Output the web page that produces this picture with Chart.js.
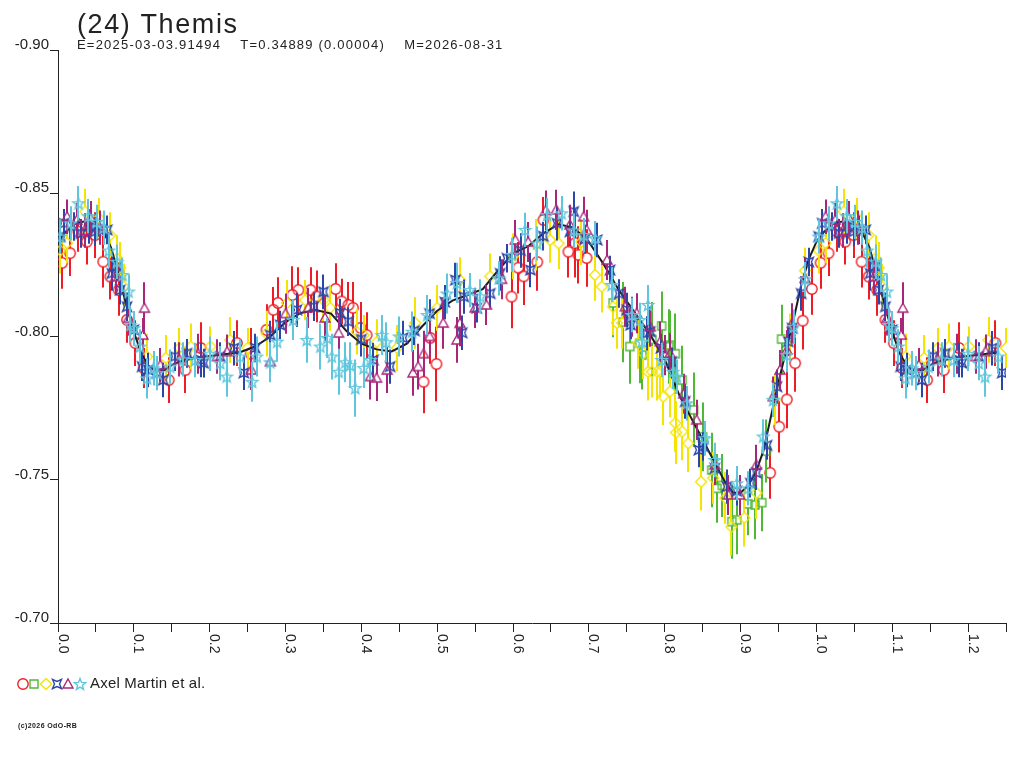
<!DOCTYPE html>
<html lang="en">
<head>
    <meta charset="UTF-8">
    <title>(24) Themis - lightcurve</title>
    <script src="https://cdn.jsdelivr.net/npm/chart.js"></script>
    <style>
        html, body { margin: 0; padding: 0; background: #fff; }
        #wrap { width: 1024px; height: 768px; }
    </style>
</head>
<body>
    <div id="wrap">
        <canvas id="lcChart" width="1024" height="768"></canvas>
    </div>

    <script>
        // axis ticks
        const xTicks = [0.0, 0.1, 0.2, 0.3, 0.4, 0.5, 0.6, 0.7, 0.8, 0.9, 1.0, 1.1, 1.2];
        const yTicks = [-0.90, -0.85, -0.80, -0.75, -0.70];

        // composite fit (black)
        const fitPhase = [0.00, 0.01, 0.02, 0.03, 0.04, 0.05, 0.06, 0.07, 0.08, 0.09, 0.10, 0.11, 0.12, 0.13, 0.14, 0.15, 0.16, 0.18, 0.20, 0.22, 0.24,
            0.26, 0.28, 0.30, 0.32, 0.34, 0.36, 0.38, 0.40, 0.42, 0.44, 0.46, 0.48, 0.50, 0.52, 0.54, 0.56, 0.58, 0.60, 0.62, 0.64, 0.66, 0.68,
            0.70, 0.72, 0.74, 0.76, 0.78, 0.80, 0.82, 0.84, 0.86, 0.88, 0.89, 0.90, 0.91, 0.92, 0.93, 0.94, 0.95, 0.96, 0.97, 0.98, 0.99];
        const fitMag = [-0.8330, -0.8365, -0.8390, -0.8400, -0.8402, -0.8390, -0.8365, -0.8310, -0.8215, -0.8110, -0.8015, -0.7940, -0.7895, -0.7878, -0.7882, -0.7900, -0.7912, -0.7925, -0.7932, -0.7938, -0.7945,
            -0.7965, -0.8000, -0.8050, -0.8082, -0.8092, -0.8080, -0.8020, -0.7975, -0.7955, -0.7948, -0.7975, -0.8035, -0.8090, -0.8125, -0.8145, -0.8165, -0.8230, -0.8290, -0.8315, -0.8360, -0.8392, -0.8380,
            -0.8330, -0.8250, -0.8160, -0.8085, -0.8010, -0.7920, -0.7790, -0.7690, -0.7590, -0.7490, -0.7455, -0.7455, -0.7480, -0.7525, -0.7600, -0.7720, -0.7840, -0.7950, -0.8060, -0.8180, -0.8270];

        // red circles
        const redPhase = [0.0055, 0.016, 0.027, 0.038, 0.049, 0.0596, 0.069, 0.080, 0.091, 0.102, 0.113, 0.146, 0.168, 0.188, 0.236, 0.254, 0.275, 0.284, 0.290, 0.309,
            0.317, 0.333, 0.341, 0.366, 0.374, 0.383, 0.389, 0.399, 0.407, 0.482, 0.491, 0.499, 0.598, 0.607, 0.614, 0.632, 0.640, 0.673, 0.682, 0.686,
            0.697, 0.939, 0.951, 0.961, 0.972, 0.982, 0.994];
        const redMag = [-0.8257, -0.8291, -0.8366, -0.8331, -0.8354, -0.8261, -0.8209, -0.8162, -0.8058, -0.7977, -0.7890, -0.7848, -0.7883, -0.7960, -0.7977, -0.7940, -0.8023, -0.8093, -0.8117, -0.8145,
            -0.8162, -0.8162, -0.8140, -0.8166, -0.8122, -0.8110, -0.8100, -0.8030, -0.8005, -0.7842, -0.7995, -0.7904, -0.8139, -0.8240, -0.8210, -0.8260, -0.8407, -0.8296, -0.8326, -0.8285,
            -0.8274, -0.7524, -0.7685, -0.7780, -0.7907, -0.8055, -0.8166];
        const redErr = [0.009, 0.008, 0.007, 0.008, 0.008, 0.009, 0.008, 0.009, 0.008, 0.008, 0.007, 0.008, 0.008, 0.009, 0.008, 0.009, 0.009, 0.008, 0.009, 0.010,
            0.008, 0.008, 0.009, 0.009, 0.008, 0.008, 0.009, 0.009, 0.008, 0.011, 0.009, 0.013, 0.011, 0.009, 0.010, 0.010, 0.008, 0.009, 0.012, 0.010,
            0.010, 0.009, 0.009, 0.010, 0.010, 0.010, 0.009];

        // green squares
        const greenPhase = [0.732, 0.745, 0.754, 0.767, 0.770, 0.783, 0.796, 0.805, 0.807, 0.814, 0.823, 0.838, 0.850, 0.862, 0.869, 0.876, 0.8885, 0.895, 0.910, 0.919,
            0.928, 0.934, 0.954];
        const greenMag = [-0.8117, -0.8050, -0.7965, -0.7977, -0.7935, -0.7990, -0.8037, -0.7965, -0.7970, -0.7940, -0.7848, -0.7744, -0.7650, -0.7534, -0.7470, -0.7480, -0.7354, -0.7360, -0.7416, -0.7412,
            -0.7420, -0.7600, -0.7991];
        const greenErr = [0.012, 0.014, 0.013, 0.014, 0.012, 0.013, 0.012, 0.013, 0.012, 0.014, 0.012, 0.013, 0.012, 0.013, 0.012, 0.011, 0.013, 0.012, 0.011, 0.012,
            0.010, 0.011, 0.012];

        // yellow diamonds
        const yellowPhase = [0.003, 0.012, 0.036, 0.054, 0.069, 0.078, 0.082, 0.087, 0.1175, 0.142, 0.160, 0.175, 0.201, 0.227, 0.250, 0.275, 0.302, 0.326, 0.350, 0.359,
            0.394, 0.403, 0.420, 0.447, 0.471, 0.500, 0.530, 0.570, 0.600, 0.630, 0.649, 0.660, 0.690, 0.708, 0.717, 0.732, 0.737, 0.744, 0.765, 0.772,
            0.778, 0.783, 0.790, 0.794, 0.798, 0.807, 0.814, 0.815, 0.823, 0.831, 0.848, 0.864, 0.880, 0.888, 0.905, 0.921, 0.945, 0.965, 0.985];
        const yellowMag = [-0.8300, -0.8326, -0.8436, -0.8413, -0.8354, -0.8273, -0.8240, -0.8174, -0.7930, -0.7925, -0.7960, -0.7965, -0.7965, -0.7988, -0.7960, -0.8010, -0.8117, -0.8127, -0.8127, -0.8100,
            -0.8017, -0.8005, -0.7980, -0.7960, -0.8047, -0.8100, -0.8197, -0.8210, -0.8280, -0.8320, -0.8337, -0.8325, -0.8330, -0.8215, -0.8174, -0.8104, -0.8047, -0.8047, -0.7977, -0.7942,
            -0.7877, -0.7877, -0.7877, -0.7877, -0.7790, -0.7808, -0.7698, -0.7665, -0.7668, -0.7627, -0.7493, -0.7506, -0.7436, -0.7336, -0.7367, -0.7454, -0.7780, -0.8000, -0.8230];
        const yellowErr = [0.008, 0.007, 0.008, 0.007, 0.008, 0.008, 0.009, 0.008, 0.008, 0.008, 0.007, 0.008, 0.007, 0.008, 0.007, 0.008, 0.008, 0.007, 0.008, 0.008,
            0.008, 0.007, 0.008, 0.008, 0.009, 0.008, 0.008, 0.008, 0.008, 0.009, 0.008, 0.009, 0.008, 0.009, 0.009, 0.010, 0.009, 0.009, 0.009, 0.009,
            0.010, 0.009, 0.010, 0.009, 0.010, 0.009, 0.010, 0.011, 0.010, 0.010, 0.010, 0.009, 0.009, 0.010, 0.010, 0.009, 0.009, 0.008, 0.008];

        // blue crossed squares
        const bluePhase = [0.003, 0.0077, 0.021, 0.030, 0.041, 0.049, 0.056, 0.065, 0.071, 0.078, 0.082, 0.091, 0.100, 0.111, 0.119, 0.131, 0.139, 0.154, 0.170, 0.188,
            0.192, 0.214, 0.232, 0.245, 0.260, 0.280, 0.293, 0.315, 0.337, 0.350, 0.372, 0.383, 0.400, 0.416, 0.438, 0.455, 0.470, 0.490, 0.510, 0.524,
            0.533, 0.535, 0.552, 0.570, 0.583, 0.592, 0.610, 0.623, 0.640, 0.658, 0.675, 0.680, 0.695, 0.711, 0.728, 0.740, 0.750, 0.755, 0.776, 0.781,
            0.795, 0.809, 0.827, 0.845, 0.851, 0.866, 0.882, 0.895, 0.913, 0.921, 0.935, 0.948, 0.963, 0.968, 0.980, 0.990];
        const blueMag = [-0.8349, -0.8395, -0.8384, -0.8360, -0.8384, -0.8366, -0.8372, -0.8372, -0.8220, -0.8244, -0.8162, -0.8104, -0.8023, -0.7895, -0.7883, -0.7872, -0.7848, -0.7930, -0.7941, -0.7918,
            -0.7907, -0.7930, -0.7959, -0.7873, -0.7960, -0.8005, -0.8040, -0.8093, -0.8104, -0.8156, -0.8082, -0.8052, -0.7990, -0.7918, -0.7895, -0.7995, -0.8020, -0.8080, -0.8120, -0.8197,
            -0.8013, -0.8139, -0.8099, -0.8150, -0.8220, -0.8273, -0.8300, -0.8232, -0.8350, -0.8395, -0.8366, -0.8436, -0.8340, -0.8337, -0.8232, -0.8150, -0.8093, -0.8040, -0.8011, -0.8017,
            -0.7960, -0.7912, -0.7773, -0.7604, -0.7616, -0.7540, -0.7476, -0.7460, -0.7488, -0.7524, -0.7620, -0.7825, -0.7982, -0.8029, -0.8150, -0.8260];
        const blueErr = [0.005, 0.005, 0.005, 0.005, 0.006, 0.005, 0.005, 0.005, 0.006, 0.005, 0.005, 0.005, 0.005, 0.005, 0.006, 0.005, 0.006, 0.005, 0.005, 0.006,
            0.005, 0.005, 0.006, 0.006, 0.005, 0.005, 0.005, 0.006, 0.005, 0.006, 0.005, 0.005, 0.006, 0.006, 0.006, 0.006, 0.005, 0.005, 0.006, 0.006,
            0.006, 0.006, 0.005, 0.005, 0.006, 0.005, 0.006, 0.006, 0.005, 0.006, 0.005, 0.007, 0.005, 0.006, 0.005, 0.005, 0.006, 0.005, 0.006, 0.005,
            0.005, 0.005, 0.006, 0.006, 0.005, 0.005, 0.006, 0.005, 0.005, 0.006, 0.005, 0.006, 0.005, 0.005, 0.006, 0.005];

        // purple triangles
        const purplePhase = [0.012, 0.025, 0.035, 0.043, 0.055, 0.076, 0.093, 0.112, 0.114, 0.135, 0.160, 0.185, 0.210, 0.223, 0.255, 0.280, 0.300, 0.330, 0.352, 0.370,
            0.412, 0.420, 0.434, 0.468, 0.475, 0.482, 0.490, 0.508, 0.526, 0.530, 0.550, 0.565, 0.585, 0.603, 0.620, 0.643, 0.657, 0.675, 0.693, 0.697,
            0.724, 0.748, 0.757, 0.763, 0.781, 0.794, 0.801, 0.807, 0.825, 0.842, 0.866, 0.884, 0.899, 0.921, 0.943, 0.952, 0.961, 0.968, 0.985];
        const purpleMag = [-0.8418, -0.8407, -0.8370, -0.8413, -0.8380, -0.8209, -0.8064, -0.8005, -0.8099, -0.7900, -0.7920, -0.7940, -0.7930, -0.7947, -0.7883, -0.7912, -0.8080, -0.8100, -0.8065, -0.8012,
            -0.7860, -0.7855, -0.7883, -0.7873, -0.7895, -0.7940, -0.8000, -0.8047, -0.7988, -0.8046, -0.8100, -0.8110, -0.8200, -0.8337, -0.8330, -0.8440, -0.8442, -0.8390, -0.8418, -0.8372,
            -0.8267, -0.8104, -0.8069, -0.8081, -0.8034, -0.7982, -0.7935, -0.7941, -0.7800, -0.7709, -0.7552, -0.7447, -0.7447, -0.7552, -0.7790, -0.7883, -0.7953, -0.8046, -0.8203];
        const purpleErr = [0.006, 0.006, 0.006, 0.006, 0.006, 0.006, 0.006, 0.006, 0.009, 0.006, 0.006, 0.007, 0.006, 0.006, 0.007, 0.007, 0.007, 0.007, 0.008, 0.007,
            0.008, 0.008, 0.008, 0.008, 0.008, 0.008, 0.007, 0.009, 0.008, 0.008, 0.007, 0.007, 0.007, 0.007, 0.007, 0.007, 0.007, 0.007, 0.007, 0.007,
            0.007, 0.007, 0.007, 0.007, 0.007, 0.007, 0.007, 0.007, 0.007, 0.007, 0.007, 0.007, 0.007, 0.007, 0.007, 0.007, 0.007, 0.007, 0.007];

        // cyan stars
        const cyanPhase = [0.003, 0.0165, 0.027, 0.040, 0.051, 0.060, 0.067, 0.078, 0.085, 0.093, 0.0955, 0.100, 0.108, 0.1175, 0.126, 0.131, 0.148, 0.165, 0.181, 0.200,
            0.214, 0.2225, 0.240, 0.256, 0.262, 0.280, 0.289, 0.310, 0.328, 0.346, 0.355, 0.361, 0.370, 0.379, 0.385, 0.392, 0.403, 0.412, 0.427, 0.433,
            0.450, 0.467, 0.487, 0.513, 0.526, 0.543, 0.557, 0.581, 0.599, 0.616, 0.632, 0.645, 0.664, 0.680, 0.693, 0.708, 0.730, 0.757, 0.767, 0.770,
            0.778, 0.796, 0.811, 0.816, 0.829, 0.853, 0.866, 0.895, 0.910, 0.930, 0.943, 0.961, 0.970, 0.985];
        const cyanMag = [-0.8349, -0.8395, -0.8465, -0.8420, -0.8400, -0.8380, -0.8300, -0.8261, -0.8215, -0.8157, -0.8040, -0.8029, -0.7965, -0.7854, -0.7889, -0.7872, -0.7895, -0.7920, -0.7918, -0.7940,
            -0.7907, -0.7860, -0.7930, -0.7842, -0.7930, -0.7910, -0.7982, -0.8058, -0.7988, -0.7965, -0.7995, -0.7930, -0.7877, -0.7910, -0.7900, -0.7820, -0.7890, -0.7918, -0.8005, -0.7980,
            -0.8000, -0.8017, -0.8075, -0.8150, -0.8187, -0.8162, -0.8140, -0.8203, -0.8285, -0.8372, -0.8325, -0.8424, -0.8430, -0.8370, -0.8354, -0.8343, -0.8180, -0.8075, -0.8058, -0.7982,
            -0.8110, -0.7918, -0.7877, -0.7860, -0.7767, -0.7645, -0.7569, -0.7488, -0.7470, -0.7651, -0.7779, -0.7935, -0.8034, -0.8200];
        const cyanErr = [0.006, 0.006, 0.006, 0.006, 0.006, 0.006, 0.006, 0.006, 0.006, 0.006, 0.006, 0.006, 0.006, 0.007, 0.006, 0.006, 0.006, 0.006, 0.006, 0.006,
            0.006, 0.007, 0.006, 0.007, 0.007, 0.007, 0.007, 0.007, 0.008, 0.008, 0.007, 0.008, 0.008, 0.007, 0.008, 0.010, 0.007, 0.007, 0.007, 0.007,
            0.007, 0.007, 0.007, 0.007, 0.007, 0.006, 0.006, 0.006, 0.006, 0.006, 0.006, 0.006, 0.006, 0.006, 0.006, 0.006, 0.006, 0.006, 0.006, 0.006,
            0.007, 0.006, 0.006, 0.006, 0.006, 0.006, 0.006, 0.006, 0.006, 0.006, 0.006, 0.006, 0.006, 0.006];

        const seriesColors = {
            red: '#ee1c24', green: '#4fb935', yellow: '#f5e400',
            blue: '#2c46a8', purple: '#a8267a', cyan: '#5fc6dd'
        };

        // marker images (16x16, centred)
        function marker(color, drawPath) {
            const c = document.createElement('canvas');
            c.width = 16; c.height = 16;
            const g = c.getContext('2d');
            g.strokeStyle = color;
            g.lineWidth = 1.4;
            g.beginPath();
            drawPath(g);
            g.closePath();
            g.stroke();
            return c;
        }
        const markers = {
            red: marker(seriesColors.red, g => g.arc(8, 8, 5.2, 0, Math.PI * 2)),
            green: marker(seriesColors.green, g => g.rect(4, 4, 8, 8)),
            yellow: marker(seriesColors.yellow, g => { g.moveTo(8, 2.5); g.lineTo(13.5, 8); g.lineTo(8, 13.5); g.lineTo(2.5, 8); }),
            blue: marker(seriesColors.blue, g => {
                g.moveTo(3.5, 3.5); g.lineTo(8, 5.5); g.lineTo(12.5, 3.5); g.lineTo(10.5, 8);
                g.lineTo(12.5, 12.5); g.lineTo(8, 10.5); g.lineTo(3.5, 12.5); g.lineTo(5.5, 8);
            }),
            purple: marker(seriesColors.purple, g => { g.moveTo(8, 3); g.lineTo(13, 12); g.lineTo(3, 12); }),
            cyan: marker(seriesColors.cyan, g => {
                for (let i = 0; i < 10; i++) {
                    const r = i % 2 === 0 ? 6 : 2.6;
                    const a = -Math.PI / 2 + i * Math.PI / 5;
                    const px = 8 + r * Math.cos(a), py = 8.5 + r * Math.sin(a);
                    if (i === 0) g.moveTo(px, py); else g.lineTo(px, py);
                }
            })
        };

        // phase-folded points, the first quarter is plotted again after phase 1
        function foldPoints(ph, mg, er) {
            const pts = ph.map((p, i) => ({ x: p, y: mg[i], e: er ? er[i] : 0 }));
            ph.forEach((p, i) => {
                if (p <= 0.25) pts.push({ x: p + 1, y: mg[i], e: er ? er[i] : 0 });
            });
            return pts;
        }

        function pointSet(name, ph, mg, er, order, gap) {
            return {
                label: name,
                data: foldPoints(ph, mg, er),
                pointStyle: markers[name],
                pointRadius: 6,
                pointHoverRadius: 6,
                showLine: false,
                borderColor: seriesColors[name],
                errColor: seriesColors[name],
                errGap: gap,
                order: order
            };
        }

        const fitPoints = foldPoints(fitPhase.concat([1.0]), fitMag.concat([fitMag[0]]), null)
            .sort((a, b) => a.x - b.x);

        const errorBars = {
            id: 'errorBars',
            beforeDatasetDraw(chart, args) {
                const ds = chart.data.datasets[args.index];
                if (!ds.errColor) return;
                const y = chart.scales.y;
                const ctx = chart.ctx;
                ctx.save();
                ctx.strokeStyle = ds.errColor;
                ctx.lineWidth = 2;
                ctx.beginPath();
                args.meta.data.forEach((el, i) => {
                    const d = ds.data[i];
                    const top = y.getPixelForValue(d.y - d.e);
                    const bot = y.getPixelForValue(d.y + d.e);
                    const px = Math.round(el.x);
                    if (el.y - ds.errGap > top) { ctx.moveTo(px, top); ctx.lineTo(px, el.y - ds.errGap); }
                    if (el.y + ds.errGap < bot) { ctx.moveTo(px, el.y + ds.errGap); ctx.lineTo(px, bot); }
                });
                ctx.stroke();
                ctx.restore();
            }
        };

        const labels = {
            id: 'labels',
            afterDraw(chart) {
                const ctx = chart.ctx;
                const xs = chart.scales.x, ys = chart.scales.y;
                const area = chart.chartArea;
                ctx.save();
                ctx.fillStyle = '#222';

                // y tick labels sit on top of their tick
                ctx.font = '15px "Liberation Sans", Arial, sans-serif';
                ctx.textAlign = 'right';
                ctx.textBaseline = 'alphabetic';
                yTicks.forEach(v => {
                    ctx.fillText(v.toFixed(2), area.left - 9, ys.getPixelForValue(v) - 1);
                });

                // x tick labels, turned clockwise
                ctx.font = '14px "Liberation Sans", Arial, sans-serif';
                ctx.textAlign = 'left';
                xTicks.forEach(v => {
                    ctx.save();
                    ctx.translate(xs.getPixelForValue(v) + 0.5, area.bottom + 11);
                    ctx.rotate(Math.PI / 2);
                    ctx.fillText(v.toFixed(1), 0, 0);
                    ctx.restore();
                });

                // title block
                ctx.font = '27px "Liberation Sans", Arial, sans-serif';
                ctx.letterSpacing = '1.6px';
                ctx.fillText('(24) Themis', 77, 33);
                ctx.font = '13px "Liberation Sans", Arial, sans-serif';
                ctx.letterSpacing = '1.2px';
                ctx.fillText('E=2025-03-03.91494    T=0.34889 (0.00004)    M=2026-08-31', 77, 49);

                // legend
                const legendX = [22.5, 34, 46, 57, 68, 79.5];
                ['red', 'green', 'yellow', 'blue', 'purple', 'cyan'].forEach((k, i) => {
                    ctx.drawImage(markers[k], Math.round(legendX[i] - 8), 676);
                });
                ctx.font = '15px "Liberation Sans", Arial, sans-serif';
                ctx.letterSpacing = '0.2px';
                ctx.fillText('Axel Martin et al.', 90, 688);

                ctx.font = 'bold 7px "Liberation Sans", Arial, sans-serif';
                ctx.letterSpacing = '0.4px';
                ctx.fillText('(c)2026 OdO-RB', 18, 728);
                ctx.restore();
            }
        };

        new Chart(document.getElementById('lcChart').getContext('2d'), {
            type: 'scatter',
            data: {
                datasets: [
                    pointSet('cyan', cyanPhase, cyanMag, cyanErr, 0, 0),
                    pointSet('purple', purplePhase, purpleMag, purpleErr, 1, 4),
                    pointSet('blue', bluePhase, blueMag, blueErr, 2, 0),
                    {
                        label: 'fit',
                        data: fitPoints,
                        showLine: true,
                        borderColor: '#1c1c1c',
                        borderWidth: 2,
                        pointRadius: 0,
                        tension: 0,
                        order: 3
                    },
                    pointSet('yellow', yellowPhase, yellowMag, yellowErr, 4, 5),
                    pointSet('green', greenPhase, greenMag, greenErr, 5, 4),
                    pointSet('red', redPhase, redMag, redErr, 6, 5)
                ]
            },
            options: {
                responsive: false,
                animation: false,
                devicePixelRatio: 1,
                events: [],
                layout: { padding: { left: 50, top: 50, right: 18, bottom: 136 } },
                plugins: { legend: { display: false }, tooltip: { enabled: false } },
                scales: {
                    x: {
                        type: 'linear',
                        min: 0,
                        max: 1.25,
                        ticks: { display: false, stepSize: 0.05, includeBounds: false },
                        grid: { drawOnChartArea: false, drawTicks: true, tickLength: 9, color: '#222' },
                        border: { display: true, color: '#222', width: 1 }
                    },
                    y: {
                        type: 'linear',
                        reverse: true,
                        min: -0.90,
                        max: -0.70,
                        ticks: { display: false, stepSize: 0.05 },
                        grid: { drawOnChartArea: false, drawTicks: true, tickLength: 8, color: '#222' },
                        border: { display: true, color: '#222', width: 1 }
                    }
                }
            },
            plugins: [errorBars, labels]
        });
    </script>
</body>
</html>
